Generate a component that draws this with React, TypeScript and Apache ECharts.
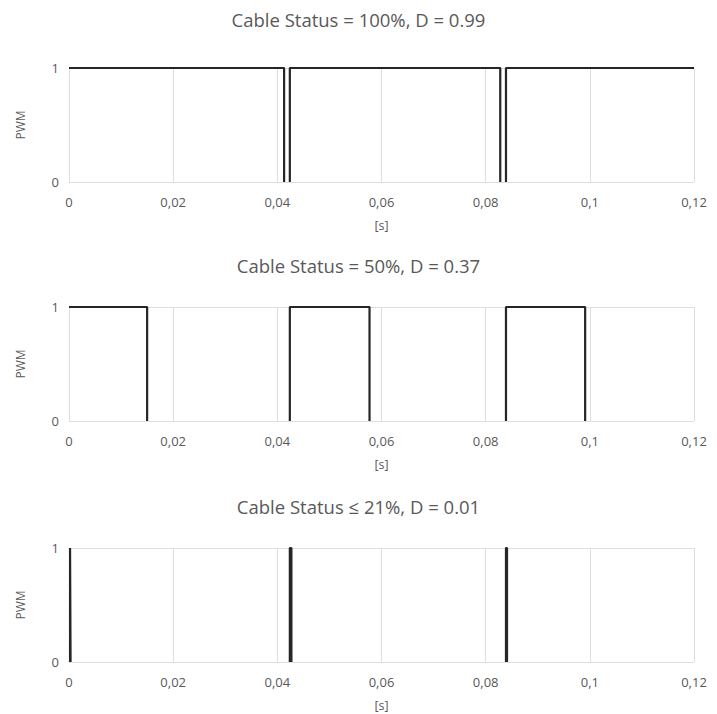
import React, { useEffect, useRef } from "react";
import * as echarts from "echarts";

const titles = ["Cable Status = 100%, D = 0.99", "Cable Status = 50%, D = 0.37", "Cable Status \u2264 21%, D = 0.01"];
const xTicks = [0, 0.02, 0.04, 0.06, 0.08, 0.1, 0.12];
const yTicks = [0, 1];

// Each pulse: [start, end] of the high state (seconds)
const pulses100: [number, number][] = [
  [0, 0.0413],
  [0.0424, 0.0828],
  [0.0839, 0.12],
];
const pulses50: [number, number][] = [
  [0, 0.015],
  [0.0424, 0.0577],
  [0.0839, 0.0991],
];
const pulses21: [number, number][] = [
  [0.0002, 0.0003],
  [0.0424, 0.0427],
  [0.0839, 0.0841],
];
const allPulses = [pulses100, pulses50, pulses21];

function toSeriesData(pulses: [number, number][]) {
  const out: any[] = [];
  pulses.forEach(([a, b], i) => {
    if (i > 0) out.push([null, null]);
    if (a > 0) out.push([a, 0]);
    out.push([a, 1]);
    out.push([b, 1]);
    if (b < 0.12) out.push([b, 0]);
  });
  return out;
}

const FONT = "'Open Sans', 'Noto Sans', sans-serif";
const GREY = "#595959";

export default function App() {
  const ref = useRef<HTMLDivElement>(null);
  useEffect(() => {
    document.body.style.margin = "0";
    const chart = echarts.init(ref.current!, null, { renderer: "svg" });
    const tops = [68, 307, 548];
    const titleTops = [5, 251, 492];
    const option: any = {
      animation: false,
      backgroundColor: "#ffffff",
      textStyle: { fontFamily: FONT },
      title: titles.map((t, i) => ({
        text: t,
        left: "center",
        top: titleTops[i],
        textStyle: { fontFamily: FONT, fontSize: 18.5, fontWeight: "normal", color: GREY },
      })),
      grid: tops.map((t) => ({ left: 69, right: 23, top: t, height: 114 })),
      xAxis: tops.map((_, i) => ({
        type: "value",
        gridIndex: i,
        min: xTicks[0],
        max: xTicks[xTicks.length - 1],
        interval: 0.02,
        name: "[s]",
        nameLocation: "middle",
        nameGap: 37,
        nameTextStyle: { fontFamily: FONT, fontSize: 12.5, color: GREY },
        axisLine: { show: false },
        axisTick: { show: false },
        axisLabel: {
          margin: 13,
          fontFamily: FONT,
          fontSize: 13,
          color: GREY,
          formatter: (v: number) => String(+v.toFixed(2)).replace(".", ","),
        },
        splitLine: { show: true, lineStyle: { color: "#dedede", width: 1 } },
      })),
      yAxis: tops.map((_, i) => ({
        type: "value",
        gridIndex: i,
        min: yTicks[0],
        max: yTicks[1],
        interval: 1,
        name: "PWM",
        nameLocation: "middle",
        nameGap: 43,
        nameTextStyle: { fontFamily: FONT, fontSize: 12, color: GREY },
        axisLine: { show: false },
        axisTick: { show: false },
        axisLabel: { margin: 10, fontFamily: FONT, fontSize: 13, color: GREY },
        splitLine: { show: true, lineStyle: { color: "#dedede", width: 1 } },
      })),
      series: allPulses.map((p, i) => ({
        type: "line",
        xAxisIndex: i,
        yAxisIndex: i,
        data: toSeriesData(p),
        showSymbol: false,
        symbol: "none",
        connectNulls: false,
        lineStyle: { color: "#262626", width: 2.2 },
        silent: true,
      })),
    };
    chart.setOption(option);
    return () => chart.dispose();
  }, []);
  return <div ref={ref} style={{ position: "absolute", left: 0, top: 0, width: 717, height: 714 }} />;
}
